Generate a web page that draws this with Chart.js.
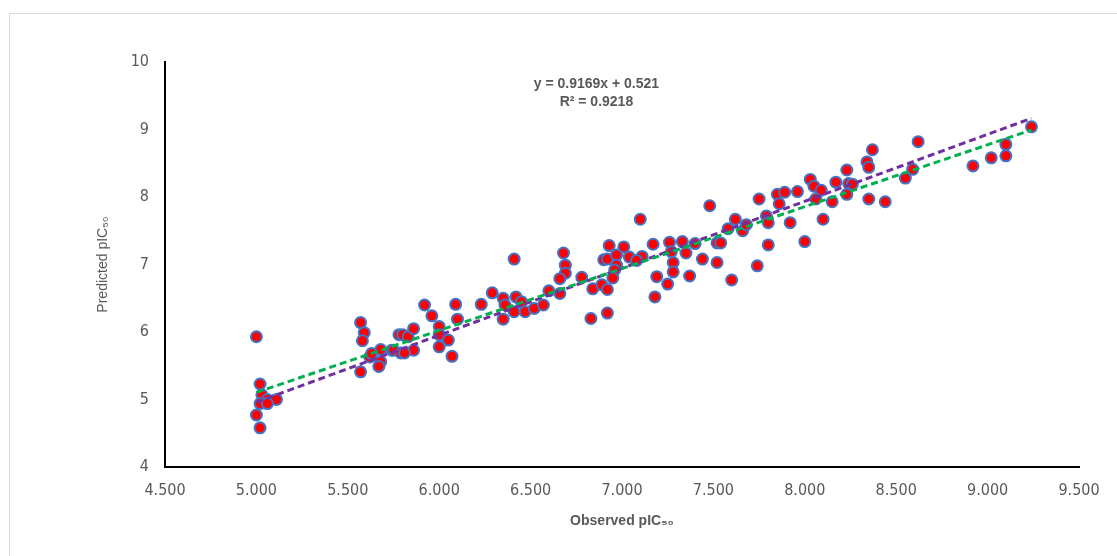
<!DOCTYPE html>
<html>
<head>
<meta charset="utf-8">
<script src="https://cdn.jsdelivr.net/npm/chart.js@4.4.1/dist/chart.umd.min.js"></script>
<style>
    html, body { margin: 0; padding: 0; background: #fff; overflow: hidden; }
    #frame { position: absolute; left: 9px; top: 13px; width: 1200px; height: 600px; border: 1.5px solid #d9d9d9; }
    #chartBox { position: absolute; left: 0; top: 0; width: 1117px; height: 556px; }
</style>
</head>
<body>
<div id="frame"></div>
<div id="chartBox"><canvas id="qsarChart"></canvas></div>
<script>
// observed vs predicted pIC50
const observed = [
    5.00, 5.02, 5.03, 5.06, 5.11, 5.02, 5.06, 5.00, 5.02,
    5.57, 5.59, 5.58, 5.57, 5.62, 5.68, 5.68, 5.67, 5.63, 5.74, 5.78,
    5.75, 5.79, 5.80, 5.83, 5.86, 5.86, 5.81, 5.92, 5.96, 6.00, 6.00, 6.00, 6.05, 6.07, 6.09, 6.10,
    6.23, 6.29, 6.35, 6.36, 6.35, 6.41, 6.42, 6.45, 6.41, 6.47, 6.52, 6.57,
    7.48, 7.10, 6.68, 6.69, 6.69, 6.66, 6.66, 6.60, 6.78, 6.84, 6.83, 6.89, 6.92, 6.92, 6.93,
    6.90, 6.92, 6.97, 6.97, 6.96, 6.95, 7.01, 7.04, 7.11, 7.08, 7.17, 7.19, 7.25, 7.18,
    7.26, 7.27, 7.33, 7.35, 7.28, 7.28, 7.37, 7.40, 7.44, 7.52, 7.52,
    7.75, 7.85, 7.89, 7.86, 7.96, 8.03, 8.05, 8.09, 8.06, 8.15, 8.17, 8.23, 8.24, 8.26, 8.23,
    8.34, 8.35, 8.37, 8.35, 8.44, 7.62, 7.58, 7.66, 7.68, 7.79, 7.80, 7.92, 8.10,
    7.54, 7.80, 8.00, 7.74, 7.60,
    8.62, 8.59, 8.55, 8.92, 9.02, 9.10, 9.10, 9.24
];
const predicted = [
    5.93, 5.23, 5.07, 5.00, 5.00, 4.94, 4.94, 4.77, 4.58,
    6.14, 5.99, 5.87, 5.41, 5.63, 5.74, 5.56, 5.49, 5.68, 5.73, 5.96,
    5.73, 5.69, 5.96, 5.93, 6.05, 5.73, 5.69, 6.40, 6.24, 6.08, 5.96, 5.78, 5.88, 5.64, 6.41, 6.19,
    6.41, 6.58, 6.50, 6.40, 6.19, 7.08, 6.52, 6.45, 6.30, 6.30, 6.35, 6.40,
    7.87, 7.67, 7.17, 6.99, 6.87, 6.79, 6.57, 6.61, 6.81, 6.64, 6.20, 6.70, 6.63, 6.28, 7.28,
    7.07, 7.08, 7.14, 6.99, 6.92, 6.80, 7.26, 7.11, 7.12, 7.06, 7.30, 6.82, 6.71, 6.52,
    7.33, 7.19, 7.34, 7.17, 7.03, 6.89, 6.83, 7.31, 7.08, 7.32, 7.03,
    7.97, 8.04, 8.07, 7.90, 8.08, 8.26, 8.16, 8.10, 7.97, 7.93, 8.22, 8.40, 8.20, 8.19, 8.04,
    8.52, 8.44, 8.70, 7.97, 7.93, 7.67, 7.53, 7.50, 7.59, 7.72, 7.62, 7.62, 7.67,
    7.32, 7.29, 7.34, 6.98, 6.77,
    8.82, 8.41, 8.28, 8.46, 8.58, 8.78, 8.61, 9.04
];

const xTicks = [4.5, 5.0, 5.5, 6.0, 6.5, 7.0, 7.5, 8.0, 8.5, 9.0, 9.5];
const yTicks = [4, 5, 6, 7, 8, 9, 10];

// linear fit shown on the chart, and the second (near y = x) reference line
const fitSlope = 0.9169, fitIntercept = 0.521;
const refSlope = 0.992, refIntercept = 0;
const equationLines = ['y = 0.9169x + 0.521', 'R\u00b2 = 0.9218'];

const xMin = Math.min(...observed), xMax = Math.max(...observed);
const points = observed.map((x, i) => ({ x: x, y: predicted[i] }));
const fitLine = [xMin, xMax].map(x => ({ x: x, y: fitSlope * x + fitIntercept }));
const refLine = [xMin, xMax].map(x => ({ x: x, y: refSlope * x + refIntercept }));

const textGray = '#595959';

const equationPlugin = {
    id: 'equation',
    afterDatasetsDraw(chart) {
        const c = chart.ctx;
        const area = chart.chartArea;
        c.save();
        c.font = 'bold 14px "Liberation Sans", Arial, sans-serif';
        c.fillStyle = textGray;
        c.textAlign = 'center';
        c.textBaseline = 'middle';
        const cx = area.left + (area.right - area.left) * 0.472;
        c.fillText(equationLines[0], cx, area.top + 22);
        c.fillText(equationLines[1], cx, area.top + 40);
        c.restore();
    }
};

const ctx = document.getElementById('qsarChart').getContext('2d');
new Chart(ctx, {
    type: 'scatter',
    data: {
        datasets: [
            { label: 'fit', data: fitLine, showLine: true, borderColor: '#00B050', borderWidth: 3, borderDash: [7, 4], pointRadius: 0, fill: false },
            { label: 'ref', data: refLine, showLine: true, borderColor: '#7030A0', borderWidth: 3, borderDash: [7, 4], pointRadius: 0, fill: false },
            { label: 'compounds', data: points, backgroundColor: '#FF0000', borderColor: '#4472C4', borderWidth: 2, pointRadius: 5.5, pointHoverRadius: 5.5 }
        ]
    },
    options: {
        responsive: true,
        maintainAspectRatio: false,
        animation: false,
        layout: { padding: { left: 80, right: 38, top: 62, bottom: 0 } },
        plugins: { legend: { display: false }, tooltip: { enabled: false } },
        scales: {
            x: {
                type: 'linear', min: 4.5, max: 9.5,
                afterBuildTicks: s => { s.ticks = xTicks.map(v => ({ value: v })); },
                afterFit: s => { s.height = 89; },
                grid: { display: false, drawTicks: false },
                border: { display: true, color: '#000', width: 2 },
                ticks: { padding: 14, color: textGray, font: { family: '"Liberation Sans Narrow", "DejaVu Sans Condensed", Arial', size: 16 }, callback: v => v.toFixed(3) },
                title: { display: true, text: 'Observed pIC\u2085\u2080', color: textGray, font: { family: '"Liberation Sans", Arial', size: 14, weight: 'bold' }, padding: { top: 0, bottom: 26 } }
            },
            y: {
                type: 'linear', min: 4, max: 10,
                afterBuildTicks: s => { s.ticks = yTicks.map(v => ({ value: v })); },
                afterFit: s => { s.width = 85; },
                grid: { display: false, drawTicks: false },
                border: { display: true, color: '#000', width: 2 },
                ticks: { padding: 16, color: textGray, font: { family: '"Liberation Sans Narrow", "DejaVu Sans Condensed", Arial', size: 16 } },
                title: { display: true, text: 'Predicted pIC\u2085\u2080', color: textGray, font: { family: '"Liberation Sans", Arial', size: 14 }, padding: { top: 15, bottom: 0 } }
            }
        }
    },
    plugins: [equationPlugin]
});
</script>
</body>
</html>
